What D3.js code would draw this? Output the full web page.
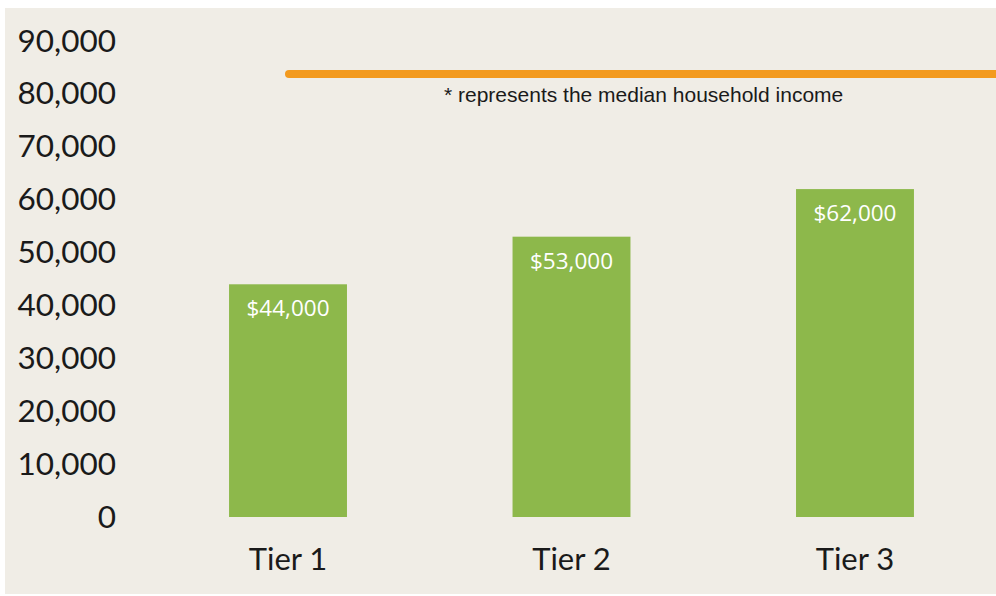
<!DOCTYPE html>
<html>
<head>
<meta charset="utf-8">
<script src="https://cdn.jsdelivr.net/npm/d3@7"></script>
<style>
  html, body { margin: 0; padding: 0; background: #ffffff; }
  svg { display: block; }
</style>
</head>
<body>
<svg id="chart" width="996" height="596"></svg>
<script>
// Categories along the x axis.
const tiers = ["Tier 1", "Tier 2", "Tier 3"];
// Income value for each tier.
const incomes = [44000, 53000, 62000];
// Value labels shown inside the bars.
const incomeLabels = ["$44,000", "$53,000", "$62,000"];
// Y axis tick values.
const yTicks = [0, 10000, 20000, 30000, 40000, 50000, 60000, 70000, 80000, 90000];
// Median household income marker.
const medianIncome = [83750];
const noteText = "* represents the median household income";

document.addEventListener("DOMContentLoaded", function(){
    let svg = d3.select("#chart");

    // Beige panel behind the chart.
    svg.append("rect")
        .attr("x", 5)
        .attr("y", 8)
        .attr("width", 991)
        .attr("height", 586)
        .style("fill", "#f0ede6");

    // Scales
    let scaleY = d3.scaleLinear()
        .domain([0, 90000])
        .range([517, 41]);

    let scaleX = d3.scaleBand()
        .domain(tiers)
        .range([144, 999])
        .paddingInner(0.584)
        .paddingOuter(0.3);

    // Y axis: labels only, no line or ticks.
    let yAxis = svg.append("g")
        .attr("transform", "translate(116, 0)")
        .call(d3.axisLeft(scaleY)
            .tickValues(yTicks)
            .tickSize(0)
            .tickPadding(0)
            .tickFormat(d3.format(",")));
    yAxis.select(".domain").remove();
    yAxis.selectAll("text")
        .style("font-family", "Lato, sans-serif")
        .style("font-size", "31.5px")
        .style("fill", "#1a1a1a");

    // X axis: tier labels under the bars.
    let xAxis = svg.append("g")
        .attr("transform", "translate(0, 517)")
        .call(d3.axisBottom(scaleX).tickSize(0).tickPadding(0));
    xAxis.select(".domain").remove();
    xAxis.selectAll("text")
        .attr("dy", null)
        .attr("y", 53)
        .style("font-family", "Lato, sans-serif")
        .style("font-size", "31px")
        .style("fill", "#1a1a1a");

    // Bars
    svg.selectAll(".bar")
        .data(tiers)
        .enter()
        .append("rect")
        .attr("class", "bar")
        .attr("x", d => scaleX(d))
        .attr("y", (d, i) => scaleY(incomes[i]))
        .attr("width", scaleX.bandwidth())
        .attr("height", (d, i) => scaleY(0) - scaleY(incomes[i]))
        .style("fill", "#8db84b");

    // Value labels inside the bars
    svg.selectAll(".barLabel")
        .data(tiers)
        .enter()
        .append("text")
        .attr("class", "barLabel")
        .attr("x", d => scaleX(d) + scaleX.bandwidth() / 2)
        .attr("y", (d, i) => scaleY(incomes[i]) + 32)
        .attr("text-anchor", "middle")
        .text((d, i) => incomeLabels[i])
        .style("font-family", "'Open Sans', sans-serif")
        .style("font-size", "22.5px")
        .style("fill", "#ffffff");

    // Median income line
    svg.selectAll(".median")
        .data(medianIncome)
        .enter()
        .append("line")
        .attr("class", "median")
        .attr("x1", 289)
        .attr("x2", 1000)
        .attr("y1", d => scaleY(d))
        .attr("y2", d => scaleY(d))
        .style("stroke", "#f39a1e")
        .style("stroke-width", 8)
        .style("stroke-linecap", "round");

    // Note under the line
    svg.append("text")
        .attr("x", 444)
        .attr("y", scaleY(medianIncome[0]) + 28)
        .text(noteText)
        .style("font-family", "'Liberation Sans', Arial, sans-serif")
        .style("font-size", "21px")
        .style("fill", "#1a1a1a");
});
</script>
</body>
</html>
